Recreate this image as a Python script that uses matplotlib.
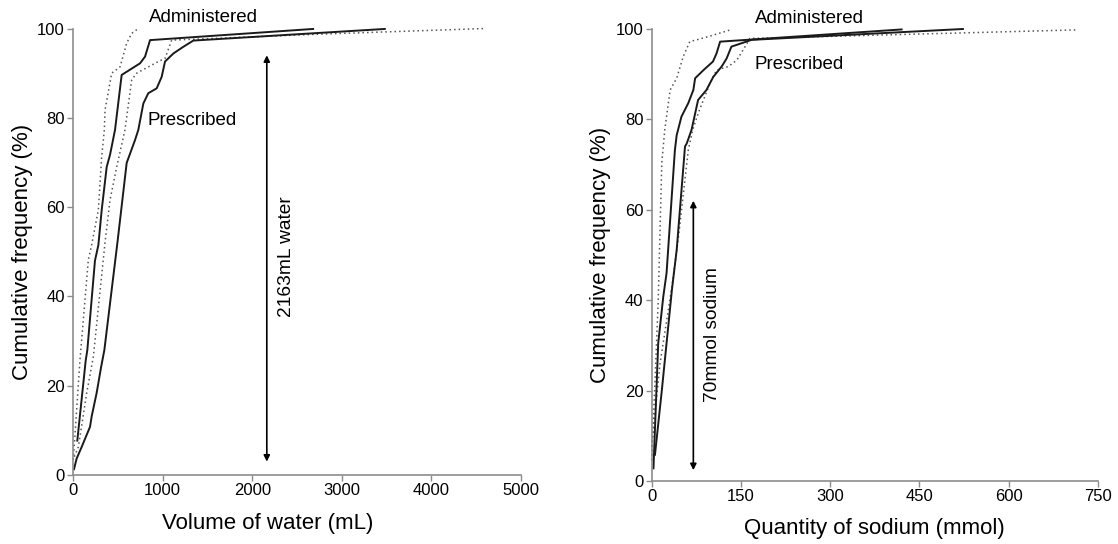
import matplotlib
matplotlib.use("Agg")
import matplotlib.pyplot as plt

# values (x, cumulative %)
# --- water panel (mL) ---
water_admin_x = [48, 142, 160, 245, 283, 320, 376, 413, 469, 543, 748, 804, 860, 2680]
water_admin_y = [7.7, 25.7, 28, 48, 51.5, 59.3, 69, 71.7, 77.3, 89.6, 92.2, 93.7, 97.4, 99.9]

water_presc_x = [11, 41, 97, 190, 208, 264, 312, 350, 499, 599, 692, 729, 785, 840, 934, 990, 1027, 1120, 1231, 1343, 3480]
water_presc_y = [1.3, 3.7, 6.3, 10.8, 13.1, 18.4, 24, 28, 52.6, 69.9, 75, 77.3, 83.2, 85.5, 86.6, 89.2, 92.6, 94.4, 95.9, 97.3, 99.9]

water_lo_x = [3, 78, 171, 208, 283, 320, 350, 357, 432, 525, 599, 655, 729]
water_lo_y = [3.4, 25.8, 48.2, 51.5, 59.4, 71.3, 77.3, 81.7, 90, 91.4, 96.7, 98.9, 100]

water_hi_x = [15, 60, 153, 227, 357, 413, 488, 580, 655, 711, 840, 952, 1027, 1101, 2700, 4600]
water_hi_y = [4.1, 6.3, 18.4, 26.5, 52, 61.6, 69, 77.3, 88.5, 90, 91.4, 92.6, 93.3, 97.4, 98.7, 100]

# --- sodium panel (mmol) ---
na_admin_x = [3, 11, 19.5, 25, 39, 42, 50, 61.5, 70, 73, 87, 103, 109, 115, 420]
na_admin_y = [2.8, 30.5, 40.8, 46, 73.2, 76.5, 80.6, 83.6, 86.5, 89.1, 90.9, 92.8, 94.6, 97.2, 99.9]

na_presc_x = [5.5, 17, 34, 42, 56, 59, 67, 78, 92, 103.5, 117.6, 126, 134, 168, 523]
na_presc_y = [5.8, 20, 42.3, 51.1, 74, 74.7, 77.7, 84.3, 86.5, 89.4, 91.7, 93.5, 96.1, 97.6, 100]

na_lo_x = [0, 5.5, 11, 17, 22, 31, 42, 53, 64, 95, 132]
na_lo_y = [4.6, 21.7, 40, 70.4, 77.7, 86.5, 89.1, 93.9, 97.2, 98.3, 99.8]

na_hi_x = [0, 14, 34, 45, 61.5, 69, 78, 98, 109, 129, 143, 157, 165, 714]
na_hi_y = [7.6, 26, 43, 54, 73.2, 77.7, 81.3, 88, 90.9, 91.7, 93.1, 96.1, 97.9, 99.8]

water_ticks = [0, 1000, 2000, 3000, 4000, 5000]
na_ticks = [0, 150, 300, 450, 600, 750]
y_ticks = [0, 20, 40, 60, 80, 100]

plt.rcParams["font.family"] = ["Liberation Sans", "DejaVu Sans"]

SPINE = "#8c8c8c"


def panel(ax, xmax, xticks):
    for s in ["top", "right"]:
        ax.spines[s].set_visible(False)
    for s in ["left", "bottom"]:
        ax.spines[s].set_color(SPINE)
        ax.spines[s].set_linewidth(1.2)
    ax.set_xlim(0, xmax)
    ax.set_ylim(0, 100)
    ax.set_xticks(xticks)
    ax.set_yticks(y_ticks)
    ax.tick_params(direction="out", length=4, width=1, color=SPINE,
                   labelsize=12, labelcolor="black", pad=2)
    ax.set_ylabel("Cumulative frequency (%)", fontsize=16, labelpad=3)


fig = plt.figure(figsize=(11.18, 5.44), dpi=100)
ax1 = fig.add_axes([0.0653, 0.1268, 0.4007, 0.8208])
ax2 = fig.add_axes([0.5829, 0.1158, 0.3992, 0.8309])

solid = dict(color="#1a1a1a", lw=1.4, clip_on=False)
dotted = dict(color="#555555", lw=1.1, ls=(0, (1, 2)), clip_on=False)
arrow = dict(arrowstyle="<|-|>", lw=1.2, color="black",
             mutation_scale=9, shrinkA=0, shrinkB=0)

# water
panel(ax1, 5000, water_ticks)
ax1.plot(water_lo_x, water_lo_y, **dotted)
ax1.plot(water_hi_x, water_hi_y, **dotted)
ax1.plot(water_admin_x, water_admin_y, **solid)
ax1.plot(water_presc_x, water_presc_y, **solid)
ax1.set_xlabel("Volume of water (mL)", fontsize=16, labelpad=10)
ax1.xaxis.set_label_coords((268 - 73) / 448, -0.085)
ax1.text(848, 102.4, "Administered", fontsize=13.5, va="center", ha="left")
ax1.text(837, 79.5, "Prescribed", fontsize=13.5, va="center", ha="left")
ax1.annotate("", xy=(2163, 94), xytext=(2163, 3), arrowprops=arrow)
ax1.text(2380, 49, "2163mL water", rotation=90, fontsize=13.8,
         va="center", ha="center")

# sodium
panel(ax2, 750, na_ticks)
ax2.plot(na_lo_x, na_lo_y, **dotted)
ax2.plot(na_hi_x, na_hi_y, **dotted)
ax2.plot(na_admin_x, na_admin_y, **solid)
ax2.plot(na_presc_x, na_presc_y, **solid)
ax2.set_xlabel("Quantity of sodium (mmol)", fontsize=16, labelpad=10)
ax2.text(173.5, 102.4, "Administered", fontsize=13.5, va="center", ha="left")
ax2.text(173.5, 92.2, "Prescribed", fontsize=13.5, va="center", ha="left")
ax2.annotate("", xy=(70, 62), xytext=(70, 2.4), arrowprops=arrow)
ax2.text(103, 32.3, "70mmol sodium", rotation=90, fontsize=13.8,
         va="center", ha="center")

fig.savefig("out.png", dpi=100)
